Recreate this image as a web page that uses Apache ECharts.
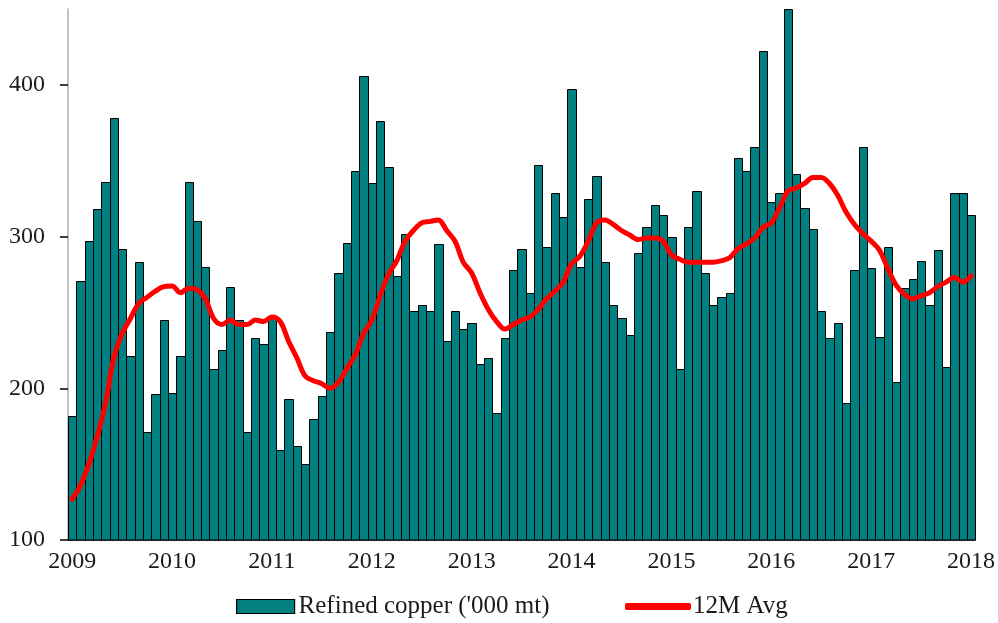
<!DOCTYPE html>
<html>
<head>
<meta charset="utf-8">
<script src="https://cdn.jsdelivr.net/npm/echarts@6/dist/echarts.min.js"></script>
<style>
  html, body { margin: 0; padding: 0; background: #fff; }
  #chart { width: 998px; height: 623px; }
</style>
</head>
<body>
<div id="chart"></div>
<script>
// Monthly categories Jan 2009 .. Jan 2018
var years = ['2009','2010','2011','2012','2013','2014','2015','2016','2017','2018'];
var monthNames = ['01','02','03','04','05','06','07','08','09','10','11','12'];
var categories = [];
years.forEach(function (y, yi) {
  monthNames.forEach(function (m, mi) {
    if (yi < years.length - 1 || mi === 0) categories.push(y + '-' + m);
  });
});

// Refined copper ('000 mt), monthly
var copper = [
  182, 271, 297, 318, 336, 378, 292, 221, 283, 171, 196, 245,
  197, 221, 336, 310, 280, 213, 225, 267, 245, 171, 233, 229,
  246, 159, 193, 162, 150, 180, 195, 237, 276, 296, 343, 406,
  335, 376, 346, 274, 302, 251, 255, 251, 295, 231, 251, 239,
  243, 216, 220, 184, 233, 278, 292, 263, 347, 293, 329, 313,
  397, 280, 325, 340, 283, 255, 246, 235, 289, 306, 321, 314,
  300, 213, 306, 330, 276, 255, 260, 263, 352, 343, 359, 422,
  323, 329, 450, 341, 319, 305, 251, 233, 243, 190, 278, 359,
  279, 234, 293, 204, 266, 272, 284, 255, 291, 214, 329, 329,
  314
];

// 12-month average
var avg12 = [
  127, 136, 150, 168, 190, 220, 236, 246, 256, 260, 264, 267,
  267.5, 263, 266, 265, 259, 246, 242, 245, 242, 242, 245, 244,
  247, 244, 231, 220, 208, 205, 203, 200, 204, 213, 222, 236,
  245, 261, 275, 284, 297, 304, 309, 310, 311, 304, 297, 283,
  276, 263, 252, 244, 239, 242, 245, 247, 252, 259, 264, 270,
  282, 287, 297, 309, 311, 308, 304, 301, 298, 299, 299, 297,
  288, 285, 283, 283, 283, 283, 284, 286, 292, 295, 299, 306,
  309, 319, 330, 332, 335, 339, 339, 335, 327, 316, 308, 302,
  297, 291, 279, 268, 262, 259, 261, 263, 267, 270, 273, 270,
  274
];

var yTicks = [100, 200, 300, 400];
var yMin = 100, yMax = 450;
var seriesNames = ["Refined copper ('000 mt)", '12M Avg'];

var FONT = 'Liberation Serif, Times New Roman, serif';
var BAR_FILL = '#008080';

function renderBar(params, api) {
  var idx = api.value(0);
  var val = api.value(1);
  var top = api.coord([idx, val]);
  var base = api.coord([idx, yMin]);
  var bw = api.size([1, 0])[0];
  var x0 = Math.round(top[0] - bw / 2) + 0.5;
  var x1 = Math.round(top[0] + bw / 2) + 0.5;
  var y0 = Math.round(top[1]) + 0.5;
  return {
    type: 'rect',
    shape: { x: x0, y: y0, width: x1 - x0, height: base[1] - y0 },
    style: { fill: BAR_FILL, stroke: '#000', lineWidth: 1 }
  };
}

var chart = echarts.init(document.getElementById('chart'), null, { renderer: 'canvas' });
chart.setOption({
  animation: false,
  backgroundColor: '#ffffff',
  grid: { left: 68, right: 17, top: 9, bottom: 83, containLabel: false },
  legend: [
    {
      data: [{ name: seriesNames[0], icon: 'rect', itemStyle: { color: BAR_FILL, borderColor: '#000', borderWidth: 1.2 } }],
      left: 236, top: 594, padding: 0,
      itemWidth: 58, itemHeight: 14,
      textStyle: { fontFamily: FONT, fontSize: 25, color: '#1a1a1a', padding: [0, 0, 0, -1] }
    },
    {
      data: [{ name: seriesNames[1], icon: 'roundRect' }],
      left: 625, top: 594, padding: 0,
      itemWidth: 66, itemHeight: 7,
      textStyle: { fontFamily: FONT, fontSize: 25, color: '#1a1a1a', padding: [0, 0, 0, -3] }
    }
  ],
  xAxis: {
    type: 'category',
    data: categories,
    boundaryGap: true,
    axisLine: { lineStyle: { color: '#000', width: 1.5 } },
    axisTick: { interval: 5, length: 7, lineStyle: { color: '#000', width: 1.5 } },
    axisLabel: {
      interval: 11,
      margin: 10,
      fontFamily: FONT, fontSize: 24, color: '#1a1a1a',
      formatter: function (v) { return v.slice(0, 4); }
    },
    splitLine: { show: false }
  },
  yAxis: {
    type: 'value',
    min: yMin, max: yMax, interval: 100,
    axisLine: { show: true, lineStyle: { color: '#b0b0b0', width: 1.5 } },
    axisTick: { show: true, length: 8, customValues: yTicks, lineStyle: { color: '#000', width: 1.5 } },
    axisLabel: {
      customValues: yTicks,
      margin: 23,
      fontFamily: FONT, fontSize: 24, color: '#1a1a1a'
    },
    splitLine: { show: false }
  },
  series: [
    {
      name: seriesNames[0],
      type: 'custom',
      renderItem: renderBar,
      encode: { x: 0, y: 1 },
      data: copper.map(function (v, i) { return [i, v]; }),
      itemStyle: { color: BAR_FILL, borderColor: '#000', borderWidth: 1 },
      z: 2
    },
    {
      name: seriesNames[1],
      type: 'line',
      data: avg12,
      smooth: 0.35,
      showSymbol: false,
      symbol: 'none',
      itemStyle: { color: '#ff0000' },
      lineStyle: { color: '#ff0000', width: 5, cap: 'round', join: 'round' },
      z: 3
    }
  ]
});
</script>
</body>
</html>
